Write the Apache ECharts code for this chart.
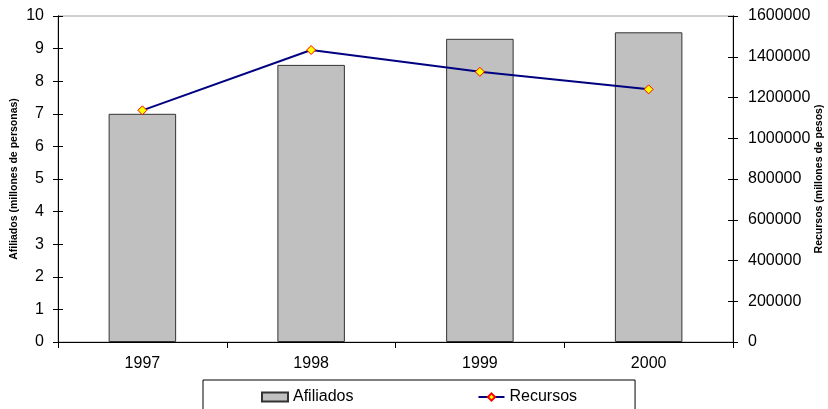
<!DOCTYPE html>
<html>
<head>
<meta charset="utf-8">
<script src="https://cdn.jsdelivr.net/npm/echarts@6/dist/echarts.min.js"></script>
<style>
  html, body { margin: 0; padding: 0; background: #fff; }
  #chart { width: 828px; height: 409px; }
</style>
</head>
<body>
<div id="chart"></div>
<script>
// Years on the category axis
const years = ['1997', '1998', '1999', '2000'];
// Afiliados, millions of people (bars, left axis)
const afiliados = [7.0, 8.5, 9.3, 9.5];
// Recursos, millions of pesos (line, right axis)
const recursos = [1137000, 1433000, 1326000, 1240000];

const FONT = 'Liberation Sans, Arial, sans-serif';
const axisText = { color: '#000', fontSize: 16, fontFamily: FONT };
const nameText = { color: '#000', fontSize: 10.5, fontWeight: 'bold', fontFamily: FONT };
const blackLine = { lineStyle: { color: '#000', width: 1 } };

// An axis that only draws the inner half of the crossing tick marks
function innerTicks(position, max, interval) {
  return {
    type: 'value', position: position, offset: 0, min: 0, max: max, interval: interval,
    axisLine: { show: true, ...blackLine },
    axisTick: { show: true, inside: true, length: 5, lineStyle: { color: '#000' } },
    axisLabel: { show: false },
    splitLine: { show: false }
  };
}

const chart = echarts.init(document.getElementById('chart'), null, { renderer: 'canvas' });
chart.setOption({
  animation: false,
  backgroundColor: '#fff',
  grid: {
    left: 58, right: 95, top: 16, bottom: 67,
    containLabel: false,
    outerBoundsMode: 'none',
    show: true, borderColor: '#a0a0a0', borderWidth: 1, backgroundColor: 'transparent'
  },
  legend: {
    top: 380, left: 203,
    padding: [9, 58, 20, 58],
    itemGap: 124,
    itemWidth: 26, itemHeight: 9,
    borderColor: '#000', borderWidth: 1,
    textStyle: { color: '#000', fontSize: 16, fontFamily: FONT },
    data: [
      { name: 'Afiliados', icon: 'rect' },
      { name: 'Recursos' }
    ]
  },
  xAxis: {
    type: 'category',
    data: years,
    axisLine: { show: true, onZero: false, ...blackLine },
    axisTick: { show: true, alignWithLabel: false, length: 6, lineStyle: { color: '#000' } },
    axisLabel: { ...axisText, margin: 14 },
    splitLine: { show: false }
  },
  yAxis: [
    {
      type: 'value', position: 'left', offset: 0, min: 0, max: 10, interval: 1,
      name: 'Afiliados (millones de personas)',
      nameLocation: 'middle', nameRotate: 90, nameGap: 38, nameMoveOverlap: false,
      nameTextStyle: nameText,
      axisLine: { show: true, ...blackLine },
      axisTick: { show: true, length: 5, lineStyle: { color: '#000' } },
      axisLabel: { ...axisText, margin: 14 },
      splitLine: { show: false }
    },
    {
      type: 'value', position: 'right', offset: 0, min: 0, max: 1600000, interval: 200000,
      name: 'Recursos (millones de pesos)',
      nameLocation: 'middle', nameRotate: 90, nameGap: 81, nameMoveOverlap: false,
      nameTextStyle: nameText,
      axisLine: { show: true, ...blackLine },
      axisTick: { show: true, length: 5, lineStyle: { color: '#000' } },
      axisLabel: { ...axisText, margin: 15, formatter: (v) => String(v) },
      splitLine: { show: false }
    },
    innerTicks('left', 10, 1),
    innerTicks('right', 1600000, 200000)
  ],
  series: [
    {
      name: 'Afiliados',
      type: 'bar',
      yAxisIndex: 0,
      data: afiliados,
      barWidth: '40%',
      itemStyle: { color: '#c0c0c0', borderColor: '#333', borderWidth: 1 }
    },
    {
      name: 'Recursos',
      type: 'line',
      yAxisIndex: 1,
      data: recursos,
      symbol: 'diamond',
      symbolSize: 9,
      lineStyle: { color: '#000080', width: 2 },
      itemStyle: { color: '#ffff00', borderColor: '#ff0000', borderWidth: 1 }
    }
  ]
});
</script>
</body>
</html>
